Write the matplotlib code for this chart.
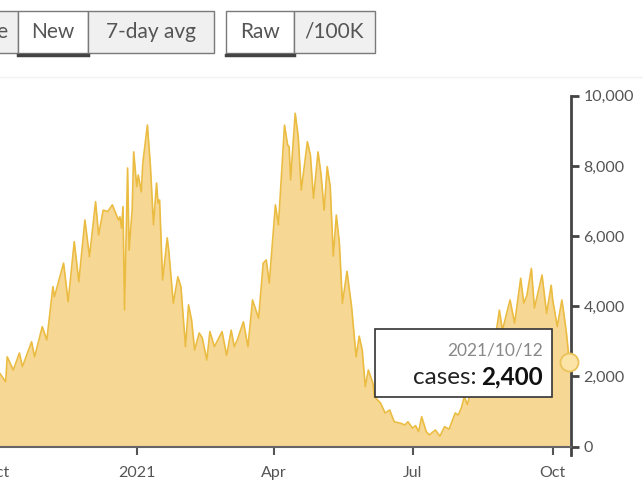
import numpy as np
import pandas as pd
import matplotlib
matplotlib.use("Agg")
import matplotlib.pyplot as plt
import matplotlib.dates as mdates
from matplotlib.patches import Rectangle, Circle
from matplotlib.lines import Line2D

plt.rcParams['font.family'] = ['Lato', 'DejaVu Sans']

# daily new cases (days counted from 2020-10-01)
start = pd.Timestamp("2020-10-01")
day = [0, 2, 6, 7, 11, 15, 17, 23, 25, 30, 33, 37, 38, 44, 47, 51, 54, 58, 61,
       65, 67, 70, 73, 76, 80, 81, 82, 83, 84, 86, 87, 89, 90, 92, 93, 95, 96,
       99, 101, 103, 105, 106, 107, 109, 112, 113, 116, 119, 121, 124, 126,
       128, 130, 133, 135, 138, 140, 143, 148, 151, 154, 156, 158, 162, 165,
       168, 172, 175, 177, 179, 183, 185, 189, 191, 192, 193, 196, 198, 200,
       204, 206, 208, 211, 213, 215, 217, 219, 221, 223, 225, 227, 230, 233,
       236, 238, 240, 242, 244, 247, 248, 252, 255, 258, 261, 265, 268, 270,
       273, 275, 277, 279, 282, 284, 288, 291, 294, 297, 301, 303, 305, 307,
       309, 312, 315, 317, 320, 322, 325, 328, 330, 332, 337, 340, 344, 346,
       348, 351, 353, 358, 361, 364, 365, 368, 371, 372, 374, 376]
cases = [2100, 2100, 1850, 2560, 2185, 2670, 2280, 2990, 2560, 3420, 3040,
         4560, 4270, 5230, 4130, 5840, 4700, 6460, 5410, 6980, 6030, 6740,
         6700, 6890, 6460, 6550, 6230, 6840, 3900, 7940, 5600, 6740, 8400,
         7410, 7740, 7260, 8080, 9165, 7980, 6320, 7510, 6940, 7030, 4750,
         5950, 5600, 4090, 4840, 4560, 2850, 4040, 3610, 2755, 3240, 3100,
         2470, 3280, 2850, 3280, 2600, 3320, 2850, 3040, 3560, 2850, 4180,
         3660, 5230, 5320, 4660, 6890, 6320, 9160, 8600, 8550, 7600, 9500,
         8830, 7310, 8690, 8300, 7080, 8400, 7740, 6740, 7980, 7410, 5430,
         6600, 5800, 4090, 5000, 3990, 2560, 3150, 2750, 1710, 2185, 1810,
         1425, 1245, 960, 1045, 710, 670, 620, 710, 530, 600, 430, 855, 430,
         335, 475, 300, 570, 500, 960, 900, 1100, 1425, 1200, 1700, 1550,
         2200, 1900, 2700, 2400, 3300, 3890, 3320, 4180, 3520, 4800, 4090,
         4300, 5080, 3950, 4890, 3800, 4600, 4180, 3420, 4180, 3890, 3240,
         2400]
dates = start + pd.to_timedelta(day, unit="D")

tick_dates = ["2020-10-01", "2021-01-01", "2021-04-01", "2021-07-01", "2021-10-01"]
tick_labels = ["Oct", "2021", "Apr", "Jul", "Oct"]
y_ticks = [0, 2000, 4000, 6000, 8000, 10000]

buttons = ["Cumulative", "New", "7-day avg", "Raw", "/100K"]
selected = ["New", "Raw"]

W, H = 643, 495
fig = plt.figure(figsize=(W / 100, H / 100), dpi=100)

def fx(px):
    return px / W

def fy(py):
    return 1 - py / H

# axes: left edge hangs off the figure like the cropped screenshot
ax = fig.add_axes([fx(-12.6), fy(446.7), fx(583.6), fy(95.7) - fy(446.7)])
fill_c = "#f7d794"
line_c = "#ebbc42"
ax.fill_between(dates, cases, color=fill_c, lw=0)
ax.plot(dates, cases, color=line_c, lw=1.2, solid_joinstyle="round")

ax.set_xlim(pd.Timestamp("2020-09-25"), pd.Timestamp("2021-10-13"))
ax.set_ylim(0, 10000)
ax.set_xticks([mdates.date2num(pd.Timestamp(d)) for d in tick_dates])
ax.set_xticklabels(tick_labels)
ax.set_yticks(y_ticks)
ax.set_yticklabels([f"{v:,}" for v in y_ticks])
ax.yaxis.tick_right()
for s in ["left", "top"]:
    ax.spines[s].set_visible(False)
ax.spines["right"].set_color("#444444")
ax.spines["right"].set_linewidth(2)
ax.spines["right"].set_bounds(-250, 10000)
ax.spines["bottom"].set_color("#666666")
ax.spines["bottom"].set_linewidth(1.5)
ax.tick_params(axis="y", colors="#444444", labelcolor="#555555", length=6,
               width=2, pad=3, labelsize=11.5)
ax.tick_params(axis="x", colors="#555555", labelcolor="#555555", length=6,
               width=1.5, pad=8, labelsize=11.5)
ax.set_facecolor("white")

# hover marker on the last point
ax.plot(dates[-1], cases[-1], "o", ms=13, mfc="#fbe4a6", mec="#ecc35a",
        mew=1.3, clip_on=False, zorder=5)

# tooltip box
fig.patches.append(Rectangle((fx(374.7), fy(396.7)), fx(177), fy(329) - fy(396.7),
                             transform=fig.transFigure, facecolor="white",
                             edgecolor="#333333", lw=1.2, zorder=10))
fig.text(fx(543), fy(351), dates[-1].strftime("%Y/%m/%d"), ha="right",
         va="center", fontsize=12.5, color="#888888", zorder=11)
t_val = fig.text(fx(543), fy(377), f"{cases[-1]:,}", ha="right", va="center",
                 fontsize=17.5, fontweight="bold", color="#111111", zorder=11)
fig.canvas.draw()
bb = t_val.get_window_extent(fig.canvas.get_renderer())
fig.text(bb.x0 / W - fx(5), fy(377), "cases:", ha="right", va="center",
         fontsize=17.5, color="#222222", zorder=11)

# toggle buttons above the chart
edges = [(-110, 18), (18, 88), (88, 214), (226, 294), (294, 375)]
for name, (x0, x1) in zip(buttons, edges):
    sel = name in selected
    fig.patches.append(Rectangle((fx(x0), fy(53)), fx(x1 - x0), fy(11) - fy(53),
                                 transform=fig.transFigure,
                                 facecolor="white" if sel else "#f0f0f0",
                                 edgecolor="#7a7a7a", lw=1))
    if name == "Cumulative":
        fig.text(fx(8), fy(32), name, ha="right", va="center", fontsize=15,
                 color="#555555")
    else:
        fig.text(fx((x0 + x1) / 2), fy(32), name, ha="center", va="center",
                 fontsize=15, color="#555555")
    if sel:
        fig.lines.append(Line2D([fx(x0), fx(x1)], [fy(54.5), fy(54.5)],
                                transform=fig.transFigure, color="#444444",
                                lw=2.5))
fig.lines.append(Line2D([0, 1], [fy(77), fy(77)], transform=fig.transFigure,
                        color="#f2f2f2", lw=1))

fig.savefig("out.png", dpi=100)
